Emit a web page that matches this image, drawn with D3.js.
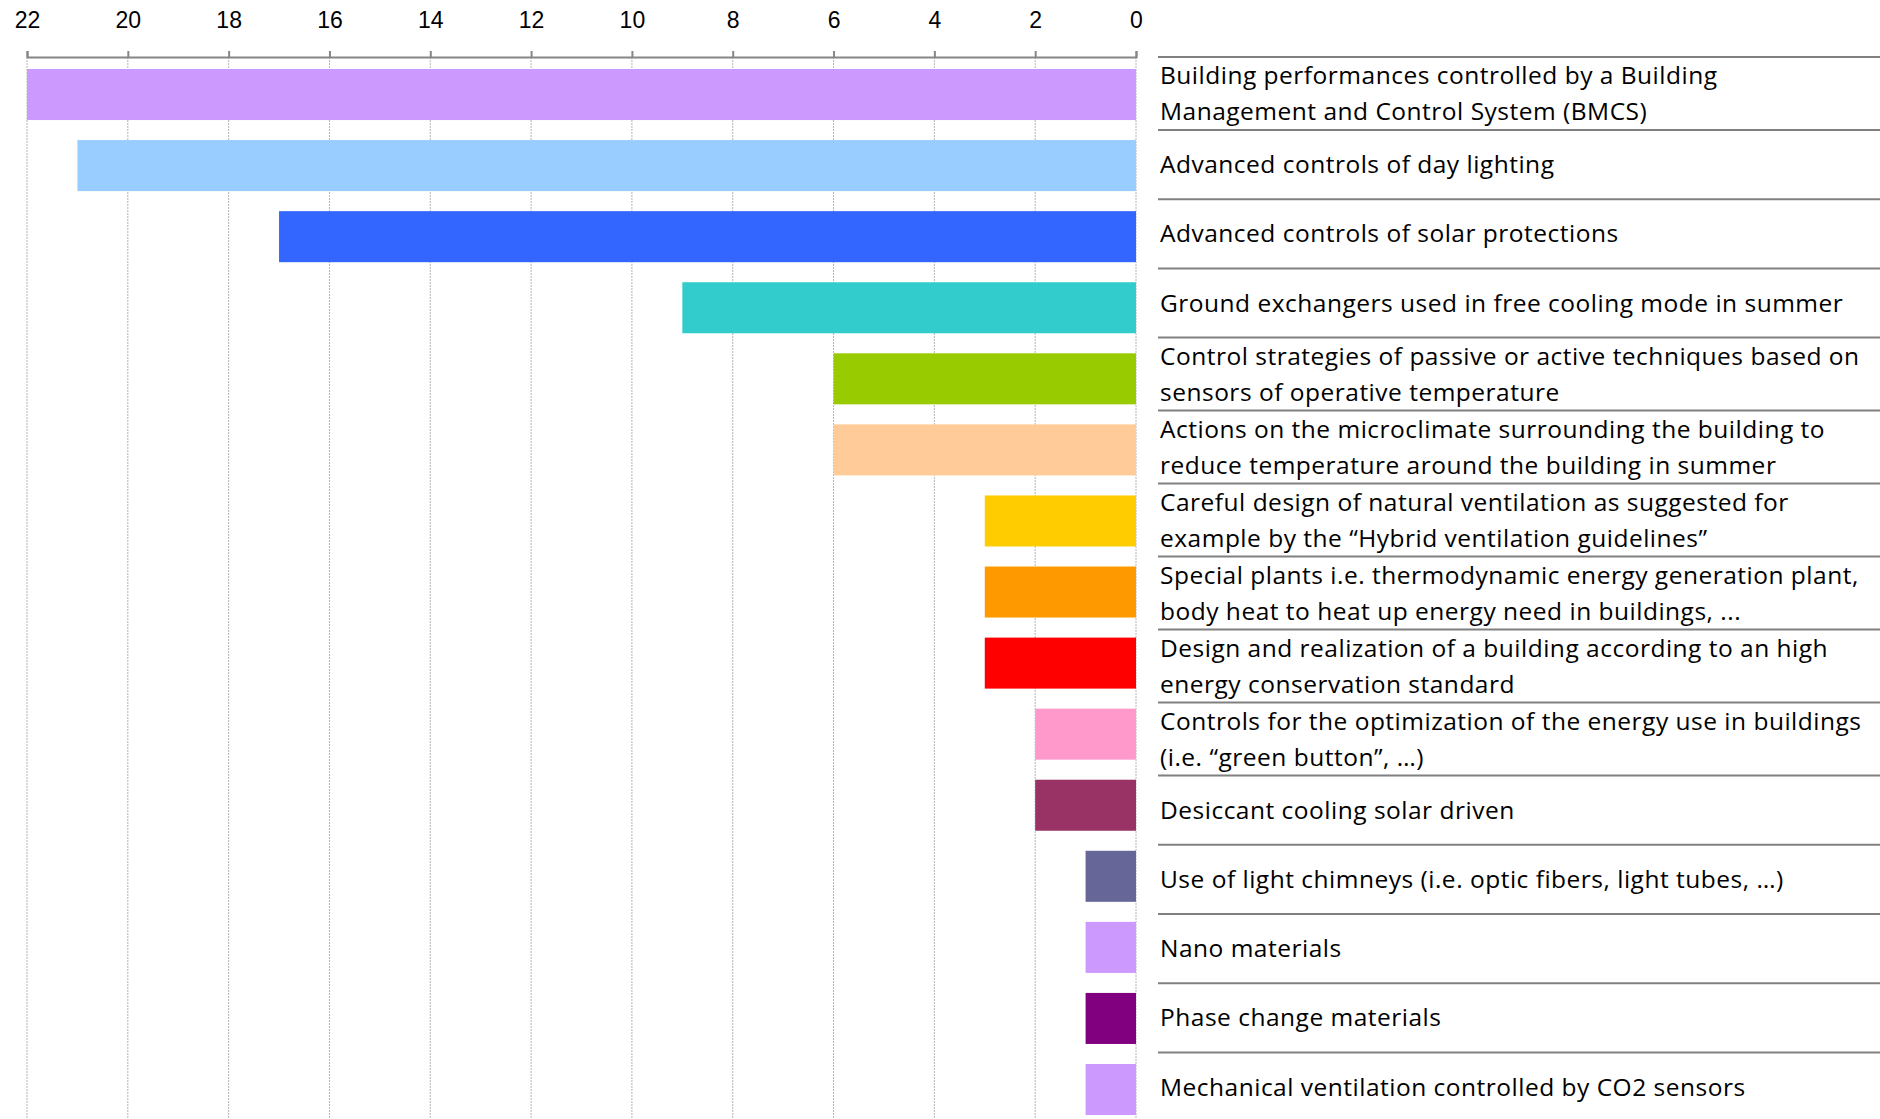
<!DOCTYPE html>
<html>
<head>
<meta charset="utf-8">
<script src="https://cdn.jsdelivr.net/npm/d3@7"></script>
<style>
  body { margin: 0; background: #fff; overflow: hidden; }
  svg { display: block; }
</style>
</head>
<body>
<div id="chart"></div>
<script>
// data
const labels = [
  ["Building performances controlled by a Building", "Management and Control System (BMCS)"],
  ["Advanced controls of day lighting"],
  ["Advanced controls of solar protections"],
  ["Ground exchangers used in free cooling mode in summer"],
  ["Control strategies of passive or active techniques based on", "sensors of operative temperature"],
  ["Actions on the microclimate surrounding the building to", "reduce temperature around the building in summer"],
  ["Careful design of natural ventilation as suggested for", "example by the \u201cHybrid ventilation guidelines\u201d"],
  ["Special plants i.e. thermodynamic energy generation plant,", "body heat to heat up energy need in buildings, ..."],
  ["Design and realization of a building according to an high", "energy conservation standard"],
  ["Controls for the optimization of the energy use in buildings", "(i.e. \u201cgreen button\u201d, \u2026)"],
  ["Desiccant cooling solar driven"],
  ["Use of light chimneys (i.e. optic fibers, light tubes, \u2026)"],
  ["Nano materials"],
  ["Phase change materials"],
  ["Mechanical ventilation controlled by CO2 sensors"]
];
const values = [22, 21, 17, 9, 6, 6, 3, 3, 3, 2, 2, 1, 1, 1, 1];
const colors = ["#CC99FF", "#99CCFF", "#3366FF", "#33CCCC", "#99CC00", "#FFCC99", "#FFCC00",
                "#FF9900", "#FF0000", "#FF99CC", "#993366", "#666699", "#CC99FF", "#800080", "#CC99FF"];
const ticks = [0, 2, 4, 6, 8, 10, 12, 14, 16, 18, 20, 22];

const dims = { width: 1880, height: 1119 };
const axisY = 57;
const step = 71.07;

const svg = d3.select("#chart")
  .append("svg")
  .attr("width", dims.width)
  .attr("height", dims.height);

// scales
const xScale = d3.scaleLinear().domain([0, 22]).range([1136, 27]);
const yScale = d3.scaleBand()
  .domain(d3.range(values.length))
  .range([59, 59 + step * values.length])
  .paddingInner(0.282)
  .paddingOuter(0.141);

// dotted grid lines
svg.append("g")
  .selectAll("line")
  .data(ticks)
  .join("line")
  .attr("x1", d => xScale(d)).attr("x2", d => xScale(d))
  .attr("y1", axisY).attr("y2", dims.height)
  .attr("stroke", "#b4b4b4")
  .attr("stroke-width", 1)
  .attr("stroke-dasharray", "2,1");

// bars
svg.append("g")
  .selectAll("rect")
  .data(values)
  .join("rect")
  .attr("x", d => xScale(d))
  .attr("y", (d, i) => yScale(i))
  .attr("width", d => xScale(0) - xScale(d))
  .attr("height", yScale.bandwidth())
  .attr("fill", (d, i) => colors[i]);

// top axis
const xAxis = d3.axisTop(xScale).tickValues(ticks).tickSize(6).tickPadding(23);
const axisGroup = svg.append("g")
  .attr("transform", `translate(0,${axisY})`)
  .call(xAxis);
axisGroup.select(".domain").attr("stroke", "#868686").attr("stroke-width", 2);
axisGroup.selectAll(".tick line").attr("stroke", "#868686").attr("stroke-width", 2);
axisGroup.selectAll(".tick text")
  .attr("fill", "#000")
  .style("font-family", "'Liberation Sans', Arial, sans-serif")
  .style("font-size", "23px");

// label table on the right
const tableX = 1158;
const rowH = n => (n > 1 ? 73 : 69.2);
let rowTop = axisY;
const rows = labels.map(lines => {
  const r = { lines: lines, top: rowTop, h: rowH(lines.length) };
  rowTop += r.h;
  return r;
});

const table = svg.append("g");
table.selectAll("line")
  .data(rows)
  .join("line")
  .attr("x1", tableX).attr("x2", dims.width)
  .attr("y1", d => d.top).attr("y2", d => d.top)
  .attr("stroke", "#808080")
  .attr("stroke-width", 2);

const lineGap = 36;
rows.forEach(r => {
  const c = r.top + r.h / 2;
  table.append("g")
    .selectAll("text")
    .data(r.lines)
    .join("text")
    .attr("x", tableX + 2)
    .attr("y", (d, k) => c + (k - (r.lines.length - 1) / 2) * lineGap + 8.5)
    .attr("fill", "#000")
    .style("font-family", "'Open Sans', Lato, sans-serif")
    .style("font-size", "24.5px")
    .style("letter-spacing", "0.5px")
    .text(d => d);
});
</script>
</body>
</html>
